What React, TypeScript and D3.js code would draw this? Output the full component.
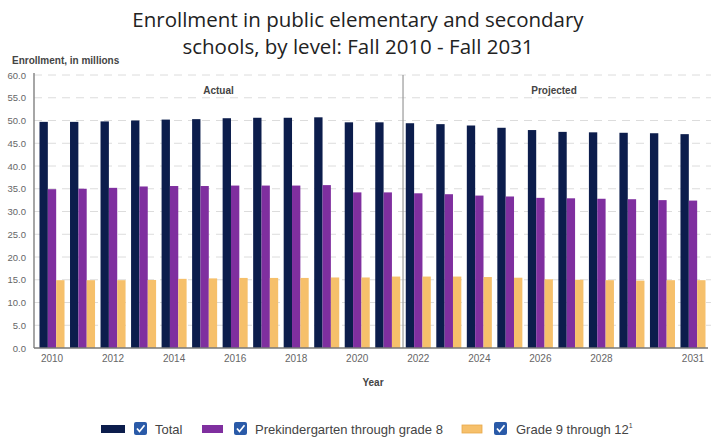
import React from "react";
import * as d3 from "d3";

const years = [2010,2011,2012,2013,2014,2015,2016,2017,2018,2019,2020,2021,2022,2023,2024,2025,2026,2027,2028,2029,2030,2031];
const totalValues = [49.7,49.7,49.8,50.0,50.2,50.3,50.5,50.6,50.6,50.7,49.6,49.6,49.4,49.2,48.9,48.4,47.9,47.5,47.4,47.3,47.2,47.0];
const prekValues = [34.9,35.0,35.2,35.5,35.6,35.6,35.7,35.7,35.7,35.8,34.2,34.2,34.0,33.8,33.5,33.3,33.0,32.9,32.8,32.7,32.5,32.4];
const gradeValues = [14.9,14.9,14.9,14.95,15.2,15.3,15.4,15.4,15.4,15.5,15.5,15.7,15.7,15.7,15.6,15.45,15.1,15.0,14.9,14.8,14.9,14.9];
const seriesKeys = ["total", "prek", "grade"];
const seriesLabels = ["Total", "Prekindergarten through grade 8", "Grade 9 through 12"];
const seriesColors = ["#0c1d4c", "#7f2f9f", "#f6c06b"];
const yTicks = [0,5,10,15,20,25,30,35,40,45,50,55,60];
const xTickYears = [2010,2012,2014,2016,2018,2020,2022,2024,2026,2028,2031];
const titleLines = ["Enrollment in public elementary and secondary", "schools, by level: Fall 2010 - Fall 2031"];

export default function App() {
  const W = 713, H = 438;
  const left = 34, right = 711, top = 75, bottom = 348;
  const x = d3.scaleBand<number>().domain(years).range([left, right]).paddingInner(0.18).paddingOuter(0.18);
  const xs = d3.scaleBand<string>().domain(seriesKeys).range([0, x.bandwidth()]);
  const y = d3.scaleLinear().domain([0, 60]).range([bottom, top]);
  const seriesData = [totalValues, prekValues, gradeValues];
  const gap = x.step() * 0.18;
  const divX = (x(2022) as number) - gap / 2;
  const font = "Arial, 'Liberation Sans', sans-serif";

  const legendItems = [
    { sx: 101, sw: 24, cx: 134, tx: 155 },
    { sx: 202, sw: 21, cx: 234, tx: 255 },
    { sx: 462, sw: 20, cx: 494, tx: 516 },
  ];
  const ly = 422;

  return (
    <svg width={W} height={H} style={{ position: "absolute", left: 0, top: 0, background: "#fff" }}>
      {titleLines.map((t, i) => (
        <text key={i} x={358} y={27 + i * 27} textAnchor="middle" fontFamily="'Open Sans', Lato, sans-serif" fontSize={20.5} fill="#222">{t}</text>
      ))}
      <text x={12} y={64} fontFamily={font} fontSize={10} fontWeight="bold" fill="#444">Enrollment, in millions</text>
      {yTicks.map((t) => (
        <g key={t}>
          {t > 0 && (
            <line x1={left} x2={right} y1={y(t)} y2={y(t)} stroke="#dcdcdc" strokeWidth={1} strokeDasharray="8,6" />
          )}
          <text x={26} y={y(t) + 3.5} textAnchor="end" fontFamily={font} fontSize={9.5} fill="#666">{t.toFixed(1)}</text>
        </g>
      ))}
      {years.map((yr, i) => (
        <g key={yr} transform={`translate(${x(yr)},0)`}>
          {seriesKeys.map((k, j) => (
            <rect key={k} x={xs(k)} y={y(seriesData[j][i])} width={xs.bandwidth()} height={y(0) - y(seriesData[j][i])} fill={seriesColors[j]} />
          ))}
        </g>
      ))}
      <line x1={divX} x2={divX} y1={top} y2={bottom} stroke="#999" strokeWidth={1.2} />
      <line x1={left} x2={left} y1={top - 2} y2={bottom} stroke="#888" strokeWidth={1.5} />
      <line x1={left} x2={708} y1={bottom} y2={bottom} stroke="#777" strokeWidth={1.5} />
      <text x={(left + divX) / 2} y={94} textAnchor="middle" fontFamily={font} fontSize={10} fontWeight="bold" fill="#444">Actual</text>
      <text x={(divX + right) / 2 - 3} y={94} textAnchor="middle" fontFamily={font} fontSize={10} fontWeight="bold" fill="#444">Projected</text>
      {xTickYears.map((yr) => (
        <text key={yr} x={(x(yr) as number) + x.bandwidth() / 2} y={362} textAnchor="middle" fontFamily={font} fontSize={10} fill="#666">{yr}</text>
      ))}
      <text x={373} y={386} textAnchor="middle" fontFamily={font} fontSize={10} fontWeight="bold" fill="#444">Year</text>
      {legendItems.map((it, i) => (
        <g key={i}>
          <rect x={it.sx} y={ly + 3} width={it.sw} height={8} fill={seriesColors[i]} stroke={i === 2 ? "#e8a94a" : "none"} strokeWidth={0.8} />
          <rect x={it.cx} y={ly} width={13} height={13} rx={2} fill="#2a5aa8" />
          <path d={`M${it.cx + 3},${ly + 6.5} L${it.cx + 5.5},${ly + 9.5} L${it.cx + 10.5},${ly + 3.3}`} stroke="#fff" strokeWidth={1.7} fill="none" />
          <text x={it.tx} y={ly + 11.5} fontFamily={font} fontSize={13} fill="#444">
            {seriesLabels[i]}
            {i === 2 && <tspan dy={-6} fontSize={7}>1</tspan>}
          </text>
        </g>
      ))}
    </svg>
  );
}
